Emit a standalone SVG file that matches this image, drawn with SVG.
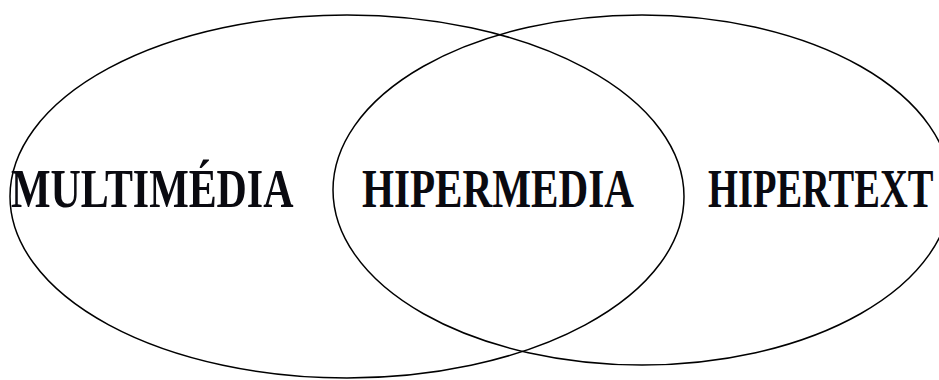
<svg xmlns="http://www.w3.org/2000/svg" width="939" height="380" viewBox="0 0 939 380">
<style>
.set{fill:none;stroke:#000;stroke-width:1.5}
.lbl{font-family:"Liberation Serif","Times New Roman",serif;font-weight:bold;font-size:55px;fill:#0a0a10}
</style>
<rect width="939" height="380" fill="#fff"/>
<g id="connectors"></g>
<g id="multimedia">
<ellipse class="set" cx="347" cy="196.5" rx="337" ry="181.5"/>
<text class="lbl" transform="translate(11,207) scale(0.762,1)">MULTIMÉDIA</text>
</g>
<g id="hipertext">
<ellipse class="set" cx="642" cy="190" rx="309" ry="175"/>
<text class="lbl" transform="translate(708,207) scale(0.70,1)">HIPERTEXT</text>
</g>
<g id="hipermedia">
<text class="lbl" transform="translate(362,207) scale(0.748,1)">HIPERMEDIA</text>
</g>
</svg>
